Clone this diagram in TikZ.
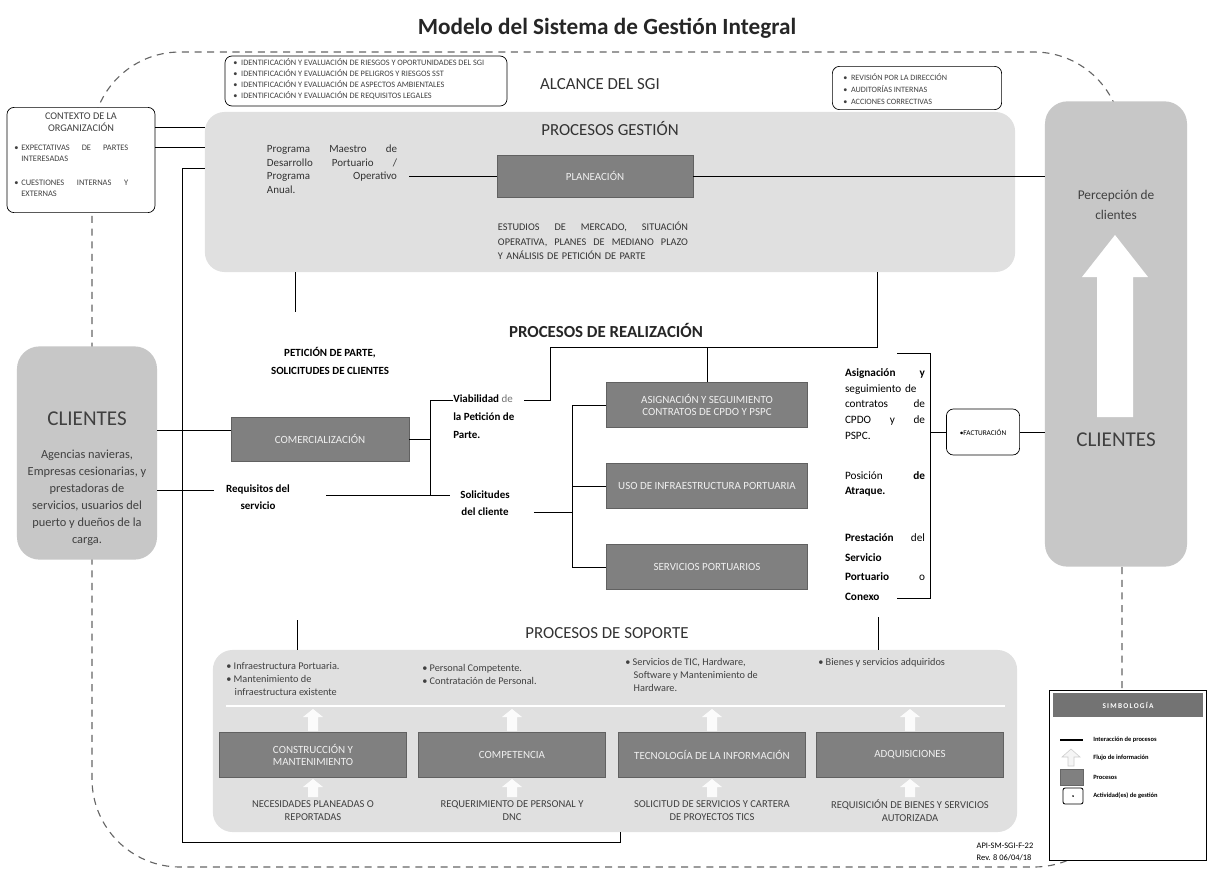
\documentclass[tikz,border=0pt]{standalone}
\usepackage{fontspec}
\setmainfont{Carlito}
\usetikzlibrary{calc}
% flecha de flujo: (x, y base, y punta)
\def\flecha(#1,#2,#3){\fill[white, opacity=0.9] (#1-5,#2) -- (#1-5,#3+8) -- (#1-10,#3+8) -- (#1,#3) -- (#1+10,#3+8) -- (#1+5,#3+8) -- (#1+5,#2) -- cycle;}

\tikzset{
  panel/.style={fill=black!12, rounded corners=14pt, inner sep=0pt},
  cliente/.style={fill=black!22, rounded corners=16pt, inner sep=0pt},
  proceso/.style={draw=black!62, line width=0.5pt, fill=black!50, text=black!6, font=\fontsize{7.8}{9}\selectfont, align=center, inner sep=0pt},
  gestion/.style={draw, rounded corners=5pt, fill=white, line width=0.5pt, inner sep=0pt},
  enlace/.style={line width=0.7pt},
  limite/.style={dash pattern=on 5pt off 4pt, line width=0.8pt, black!60},
  bala/.style={anchor=west, align=left, inner sep=0pt, text=black!75},
  negrita/.style={font=\bfseries\fontsize{7.8}{12.5}\selectfont, inner sep=0pt},
  derecha/.style={font=\fontsize{8}{11.2}\selectfont, text width=2cm, align=left, inner sep=0pt},
  soptexto/.style={font=\fontsize{7.3}{9.2}\selectfont, anchor=north west, align=left, inner sep=0pt, text=black!75},
  entrada/.style={font=\fontsize{7.5}{9.2}\selectfont, align=center, inner sep=0pt, text=black!75},
  titulo/.style={font=\fontsize{12}{14}\selectfont, text=black!80},
  leyenda/.style={anchor=west, font=\bfseries\fontsize{4.6}{5.5}\selectfont, inner sep=0pt}
}

\begin{document}
\begin{tikzpicture}[x=0.025cm, y=-0.025cm]
	%%%%% START %%%%%
	\useasboundingbox (0,0) rectangle (1209,882);
	\fill[white] (0,0) rectangle (1209,882);
	
	\node[font=\bfseries\fontsize{16.5}{19}\selectfont, text=black!85] (tit) at (607,28) {Modelo del Sistema de Gestión Integral};
	
	% alcance del SGI
	\draw[limite, rounded corners=2.2cm] (92,52) rectangle (1122,867);
	
	% contexto de la organizacion
	\node[gestion, minimum width=3.7cm, minimum height=2.63cm] (ctx) at (81,160) {};
	\node[font=\fontsize{7.3}{8.6}\selectfont, align=center, text=black!75] (ctxt) at (81,122) {CONTEXTO DE LA\\ORGANIZACIÓN};
	\node[bala, text width=2.85cm, font=\fontsize{6}{7.8}\selectfont] (ctx1) at (14,153) {•\ EXPECTATIVAS\hfill DE\hfill PARTES\\\hspace*{5pt}INTERESADAS};
	\node[bala, text width=2.85cm, font=\fontsize{6}{7.8}\selectfont] (ctx2) at (14,188) {•\ CUESTIONES\hfill INTERNAS\hfill Y\\\hspace*{5pt}EXTERNAS};
	
	\node[gestion, minimum width=7.05cm, minimum height=1.25cm] (riesgo) at (366,81) {};
	\node[bala, font=\fontsize{5.9}{7.8}\selectfont] (riesgot) at (233,79) {•\ \ IDENTIFICACIÓN Y EVALUACIÓN DE RIESGOS Y OPORTUNIDADES DEL SGI\\•\ \ IDENTIFICACIÓN Y EVALUACIÓN DE PELIGROS Y RIESGOS SST\\•\ \ IDENTIFICACIÓN Y EVALUACIÓN DE ASPECTOS AMBIENTALES\\•\ \ IDENTIFICACIÓN Y EVALUACIÓN DE REQUISITOS LEGALES};
	\node[titulo] (alcance) at (600,84) {ALCANCE DEL SGI};
	\node[gestion, minimum width=4.23cm, minimum height=1.08cm] (revis) at (917,88) {};
	\node[bala, font=\fontsize{5.8}{8.8}\selectfont] (revist) at (843,89) {•\ \ REVISIÓN POR LA DIRECCIÓN\\•\ \ AUDITORÍAS INTERNAS\\•\ \ ACCIONES CORRECTIVAS};
	
	% procesos gestion
	\node[panel, minimum width=20.25cm, minimum height=4cm] (gest) at (610,192) {};
	\node[titulo] (gestt) at (610,129) {PROCESOS GESTIÓN};
	\node[font=\fontsize{7.8}{9.6}\selectfont, text width=3.25cm, align=left, inner sep=0pt, text=black!80] (pmdp) at (332,169) {Programa\hfill Maestro\hfill de\\Desarrollo\hfill Portuario\hfill /\\Programa\hfill Operativo\\Anual.};
	\node[proceso, minimum width=4.9cm, minimum height=1.05cm] (plan) at (595,176) {PLANEACIÓN};
	\node[font=\fontsize{7.3}{10.3}\selectfont, text width=4.75cm, align=left, inner sep=0pt, text=black!80] (estud) at (593,241) {ESTUDIOS\hfill DE\hfill MERCADO,\hfill SITUACIÓN\\OPERATIVA,\hfill PLANES\hfill DE\hfill MEDIANO\hfill PLAZO\\Y ANÁLISIS DE PETICIÓN DE PARTE};
	
	% clientes
	\node[cliente, minimum width=3.5cm, minimum height=5.33cm] (cliL) at (87,453) {};
	\node[font=\fontsize{15}{17}\selectfont, text=black!75] (cliLt) at (87,419) {CLIENTES};
	\node[font=\fontsize{8.8}{12.1}\selectfont, align=center, text=black!75] (cliLd) at (87,498) {Agencias navieras,\\Empresas cesionarias, y\\prestadoras de\\servicios, usuarios del\\puerto y dueños de la\\carga.};
	\node[cliente, minimum width=3.55cm, minimum height=11.63cm] (cliR) at (1116,334) {};
	\node[font=\fontsize{9.5}{14}\selectfont, align=center, text=black!75] (percep) at (1116,205) {Percepción de\\clientes};
	\fill[white] (1115,235) -- (1148,277) -- (1133,277) -- (1133,417) -- (1097,417) -- (1097,277) -- (1082,277) -- cycle;
	\node[font=\fontsize{15}{17}\selectfont, text=black!75] (cliRt) at (1116,440) {CLIENTES};
	
	% procesos de realizacion
	\node[font=\bfseries\fontsize{12}{14}\selectfont, text=black!85] (realt) at (606,330) {PROCESOS DE REALIZACIÓN};
	\node[negrita, align=center] (petic) at (330,361) {PETICIÓN DE PARTE,\\SOLICITUDES DE CLIENTES};
	\node[proceso, minimum width=4.45cm, minimum height=1.1cm] (comer) at (320,439) {COMERCIALIZACIÓN};
	\node[negrita, align=center] (req) at (258,497) {Requisitos del\\servicio};
	\node[negrita, align=left, anchor=north west] (viab) at (453,395) {Viabilidad {\mdseries\color{black!55}de}\\la Petición de\\Parte.};
	\node[negrita, align=center] (solic) at (485,503) {Solicitudes\\del cliente};
	\node[proceso, minimum width=5.03cm, minimum height=1.13cm] (asig) at (707,405) {ASIGNACIÓN Y SEGUIMIENTO\\CONTRATOS DE CPDO Y PSPC};
	\node[proceso, minimum width=5.03cm, minimum height=1.13cm] (uso) at (707,486) {USO DE INFRAESTRUCTURA PORTUARIA};
	\node[proceso, minimum width=5.03cm, minimum height=1.13cm] (serv) at (707,567) {SERVICIOS PORTUARIOS};
	\node[derecha] (asigt) at (885,404) {\textbf{Asignación}\hfill \textbf{y}\\seguimiento de\\contratos\hfill de\\CPDO\hfill y\hfill de\\PSPC.};
	\node[derecha] (posic) at (885,484) {Posición\hfill \textbf{de}\\\textbf{Atraque.}};
	\node[derecha, font=\fontsize{8}{14}\selectfont] (prest) at (885,567) {\textbf{Prestación}\hfill del\\\textbf{Servicio}\\\textbf{Portuario}\hfill o\\\textbf{Conexo}};
	\node[gestion, minimum width=1.83cm, minimum height=1.15cm, font=\fontsize{5.2}{6}\selectfont] (fact) at (983,432) {•FACTURACIÓN};
	
	% procesos de soporte
	\node[titulo] (sopt) at (607,633) {PROCESOS DE SOPORTE};
	\node[panel, minimum width=20.1cm, minimum height=4.55cm] (sop) at (615,741) {};
	\draw[white, line width=1.5pt] (226,706) -- (1005,706);
	\node[soptexto] (b1) at (226,662) {•\ Infraestructura Portuaria.\\•\ Mantenimiento de\\\hspace*{6pt}infraestructura existente};
	\node[soptexto] (b2) at (422,664) {•\ Personal Competente.\\•\ Contratación de Personal.};
	\node[soptexto] (b3) at (625,658) {•\ Servicios de TIC, Hardware,\\\hspace*{6pt}Software y Mantenimiento de\\\hspace*{6pt}Hardware.};
	\node[soptexto] (b4) at (818,658) {•\ Bienes y servicios adquiridos};
	\flecha(313,731,709) \flecha(512,731,709) \flecha(712,731,709) \flecha(910,731,709)
	\flecha(313,797,779) \flecha(512,797,779) \flecha(712,797,779) \flecha(910,797,779)
	\node[proceso, minimum width=4.68cm, minimum height=1.13cm] (cons) at (313,755) {CONSTRUCCIÓN Y\\MANTENIMIENTO};
	\node[proceso, minimum width=4.68cm, minimum height=1.13cm] (comp) at (512,755) {COMPETENCIA};
	\node[proceso, minimum width=4.68cm, minimum height=1.13cm] (tic) at (712,755) {TECNOLOGÍA DE LA INFORMACIÓN};
	\node[proceso, minimum width=4.68cm, minimum height=1.13cm] (adq) at (910,755) {ADQUISICIONES};
	\node[entrada] (e1) at (313,811) {NECESIDADES PLANEADAS O\\REPORTADAS};
	\node[entrada] (e2) at (512,811) {REQUERIMIENTO DE PERSONAL Y\\DNC};
	\node[entrada] (e3) at (712,811) {SOLICITUD DE SERVICIOS Y CARTERA\\DE PROYECTOS TICS};
	\node[entrada] (e4) at (910,811) {REQUISICIÓN DE BIENES Y SERVICIOS\\AUTORIZADA};
	
	% conexiones
	\coordinate (c1) at (0,127);
	\coordinate (c2) at (0,147);
	\draw[enlace] (ctx.east |- c1) -- (gest.west |- c1);
	\draw[enlace] (ctx.east |- c2) -- (gest.west |- c2);
	\coordinate (lvtop) at (182,168);
	\coordinate (lvbot) at (182,842);
	\coordinate (sopjoin) at (620,832);
	\draw[enlace] (gest.west |- lvtop) -- (lvtop) -- (lvbot) -| (sopjoin);
	\draw[enlace] (plan.west) -- ([xshift=0.3cm]pmdp.east |- plan.west);
	\draw[enlace] (plan.east) -- (plan.east -| cliR.west);
	\coordinate (gdown) at (295,312);
	\draw[enlace] (gest.south -| gdown) -- (gdown);
	\coordinate (l1) at (0,430);
	\coordinate (l2) at (0,490);
	\draw[enlace] (cliL.east |- l1) -- (comer.west |- l1);
	\draw[enlace] (cliL.east |- l2) -- ([xshift=-0.3cm]req.west |- l2);
	\coordinate (ctop) at (430,400);
	\coordinate (cbot) at (430,495);
	\draw[enlace] (comer.east) -- (comer.east -| ctop);
	\draw[enlace] (viab.west |- ctop) -- (ctop) -- (cbot);
	\draw[enlace] ([xshift=0.9cm]req.east |- cbot) -- ([xshift=-0.25cm]solic.west |- cbot);
	\coordinate (viabA) at (524,400);
	\coordinate (vjoin) at (550,347);
	\coordinate (gr) at (877,347);
	\draw[enlace] (viabA) -- (vjoin |- viabA) -- (vjoin) -- (gr) -- (gest.south -| gr);
	\draw[enlace] (asig.north) -- (asig.north |- gr);
	\coordinate (sv) at (572,512);
	\draw[enlace] ([xshift=0.6cm]solic.east |- sv) -- (sv);
	\draw[enlace] (asig.west) -- (asig.west -| sv) -- (serv.west -| sv) -- (serv.west);
	\draw[enlace] (uso.west) -- (uso.west -| sv);
	\coordinate (bt0) at (897,353);
	\coordinate (bt) at (930,353);
	\coordinate (bb) at (930,598);
	\coordinate (bb0) at (897,598);
	\draw[enlace] (bt0) -- (bt) -- (bb) -- (bb0);
	\draw[enlace] (fact.west) -- (fact.west -| bt);
	\draw[enlace] (fact.east) -- (fact.east -| cliR.west);
	\coordinate (s1) at (297,620);
	\coordinate (s2) at (878,617);
	\draw[enlace] (s1) -- (sop.north -| s1);
	\draw[enlace] (s2) -- (sop.north -| s2);
	
	% simbologia
	\node[draw, fill=white, line width=0.6pt, minimum width=3.93cm, minimum height=4.25cm, inner sep=0pt] (simb) at (1128,775) {};
	\node[fill=black!55, minimum width=3.75cm, minimum height=0.58cm, inner sep=0pt, text=white, font=\bfseries\fontsize{5.2}{6}\selectfont] (simbt) at (1128,705) {S\,I\,M\,B\,O\,L\,O\,G\,Í\,A};
	\draw[line width=1pt] (1060,740) -- (1083,740);
	\node[leyenda] (ley1) at (1093,740) {Interacción de procesos};
	\draw[black!20, fill=black!4] (1068,766) -- (1068,757) -- (1062,757) -- (1071,749) -- (1080,757) -- (1074,757) -- (1074,766) -- cycle;
	\node[leyenda] (ley2) at (1093,758) {Flujo de información};
	\draw[fill=black!50, draw=black!60] (1060,769) rectangle (1083,785);
	\node[leyenda] (ley3) at (1093,777) {Procesos};
	\draw[rounded corners=1.5pt, line width=0.6pt] (1063,788) rectangle (1083,804);
	\fill (1073,796) circle (0.7pt);
	\node[leyenda] (ley4) at (1093,796) {Actividad(es) de gestión};
	\node[font=\fontsize{6}{8.5}\selectfont, align=left, inner sep=0pt] (api) at (1005,852) {API-SM-SGI-F-22\\Rev. 8 06/04/18};
	%%%%% END %%%%%
\end{tikzpicture}
\end{document}
